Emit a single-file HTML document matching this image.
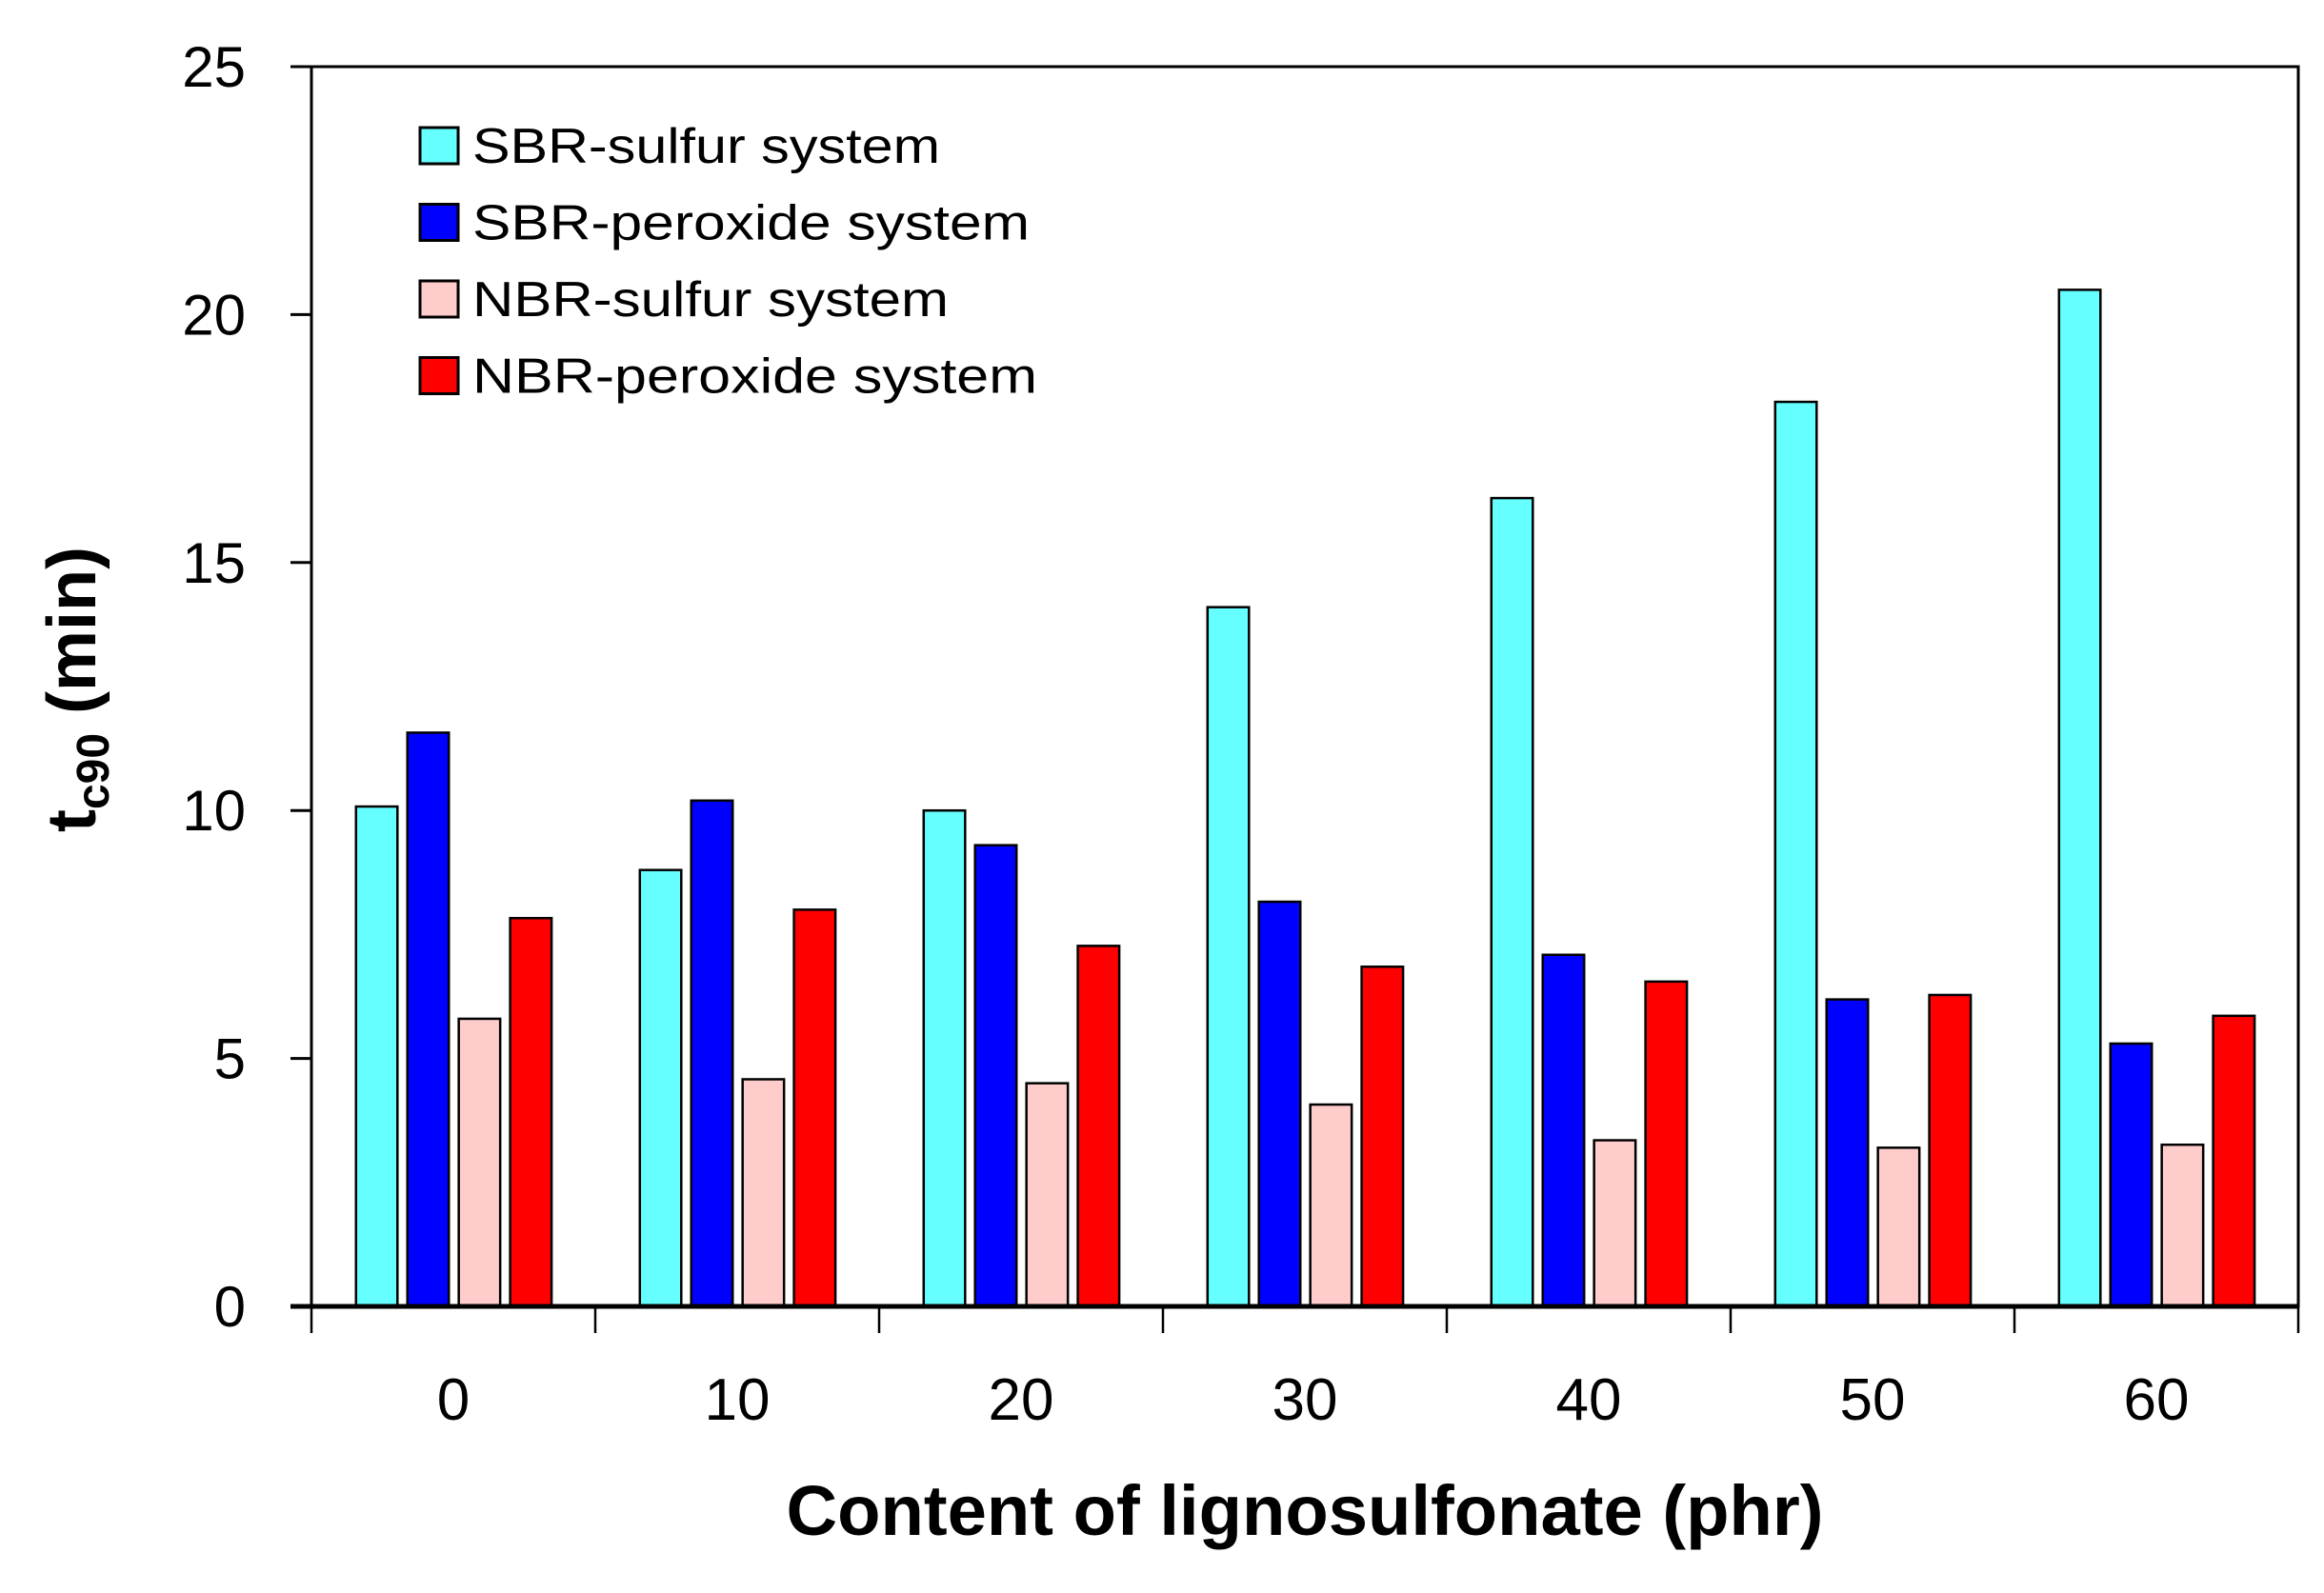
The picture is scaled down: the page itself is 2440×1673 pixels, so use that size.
<!DOCTYPE html>
<html><head><meta charset="utf-8"><style>
html,body{margin:0;padding:0;background:#fff}
svg{display:block;font-family:"Liberation Sans",sans-serif}
</style></head><body>
<svg id="chart" width="2440" height="1673" viewBox="0 0 2440 1673">
<g id="bars"></g>
<g id="axes"></g>
<text transform="translate(100,724) rotate(-90)" text-anchor="middle" font-size="72" font-weight="bold">t<tspan font-size="48" dy="14">c90</tspan><tspan dy="-14"> (min)</tspan></text>
<text x="1370" y="1612" text-anchor="middle" font-size="74" font-weight="bold" textLength="1089" lengthAdjust="spacingAndGlyphs">Content of lignosulfonate (phr)</text>
<g id="legend"></g>
</svg>
<script>
const categories = ["0","10","20","30","40","50","60"];
const seriesNames = ["SBR-sulfur system","SBR-peroxide system","NBR-sulfur system","NBR-peroxide system"];
const sbrSulfur = [10.08, 8.8, 10.0, 14.1, 16.3, 18.24, 20.5];
const sbrPeroxide = [11.57, 10.2, 9.3, 8.16, 7.09, 6.19, 5.3];
const nbrSulfur = [5.8, 4.58, 4.5, 4.07, 3.35, 3.2, 3.26];
const nbrPeroxide = [7.83, 8.0, 7.27, 6.85, 6.55, 6.28, 5.86];
const yTicks = [0,5,10,15,20,25];
const series = [sbrSulfur, sbrPeroxide, nbrSulfur, nbrPeroxide];
const colors = ["#66ffff","#0000ff","#ffcccc","#ff0000"];
const NS="http://www.w3.org/2000/svg";
const L=327,R=2413,T=70,B=1372,yMax=25;
const y=v=>B-(v/yMax)*(B-T);
const catW=(R-L)/categories.length;
const xCat=i=>L+i*catW;
function mk(tag,attrs,parent){const e=document.createElementNS(NS,tag);for(const k in attrs)e.setAttribute(k,attrs[k]);parent.appendChild(e);return e;}
const bars=document.getElementById('bars'),axes=document.getElementById('axes'),legend=document.getElementById('legend');
const bw=catW*0.146, step=catW*0.181, off=catW*0.157;
categories.forEach((c,i)=>{
  series.forEach((s,j)=>{
    const x=xCat(i)+off+j*step;
    const r=mk('rect',{x:x,y:y(s[i]),width:bw,height:B-y(s[i]),fill:colors[j],stroke:'#000','stroke-width':2.5},bars);
    
    
  });
});
// frame
const fr=mk('rect',{x:L,y:T,width:R-L,height:B-T,fill:'none',stroke:'#000','stroke-width':3},axes);


const xl=mk('line',{x1:305,y1:B,x2:R,y2:B,stroke:'#000','stroke-width':5},axes);


yTicks.forEach(t=>{
  mk('line',{x1:305,y1:y(t),x2:L,y2:y(t),stroke:'#000','stroke-width':3},axes);
  const tx=mk('text',{x:258,y:y(t)+21,'text-anchor':'end','font-size':60},axes);
  tx.textContent=t;
  
  
});
for(let i=0;i<=categories.length;i++){
  mk('line',{x1:xCat(i),y1:B,x2:xCat(i),y2:B+28,stroke:'#000','stroke-width':2.5},axes);
}
categories.forEach((c,i)=>{
  const tx=mk('text',{x:xCat(i)+catW/2,y:1491,'text-anchor':'middle','font-size':62},axes);
  tx.textContent=c;
  
  
});
const lenW=[491,585,500,593];
seriesNames.forEach((n,j)=>{
  const cy=153+j*80.5;
  const g=mk('g',{},legend);
  
  
  mk('rect',{x:441,y:cy-19,width:40,height:38,fill:colors[j],stroke:'#000','stroke-width':3},g);
  const tx=mk('text',{x:496,y:cy+18,'font-size':52,textLength:lenW[j],lengthAdjust:'spacingAndGlyphs'},g);
  tx.textContent=n;
});
</script>
</body></html>
